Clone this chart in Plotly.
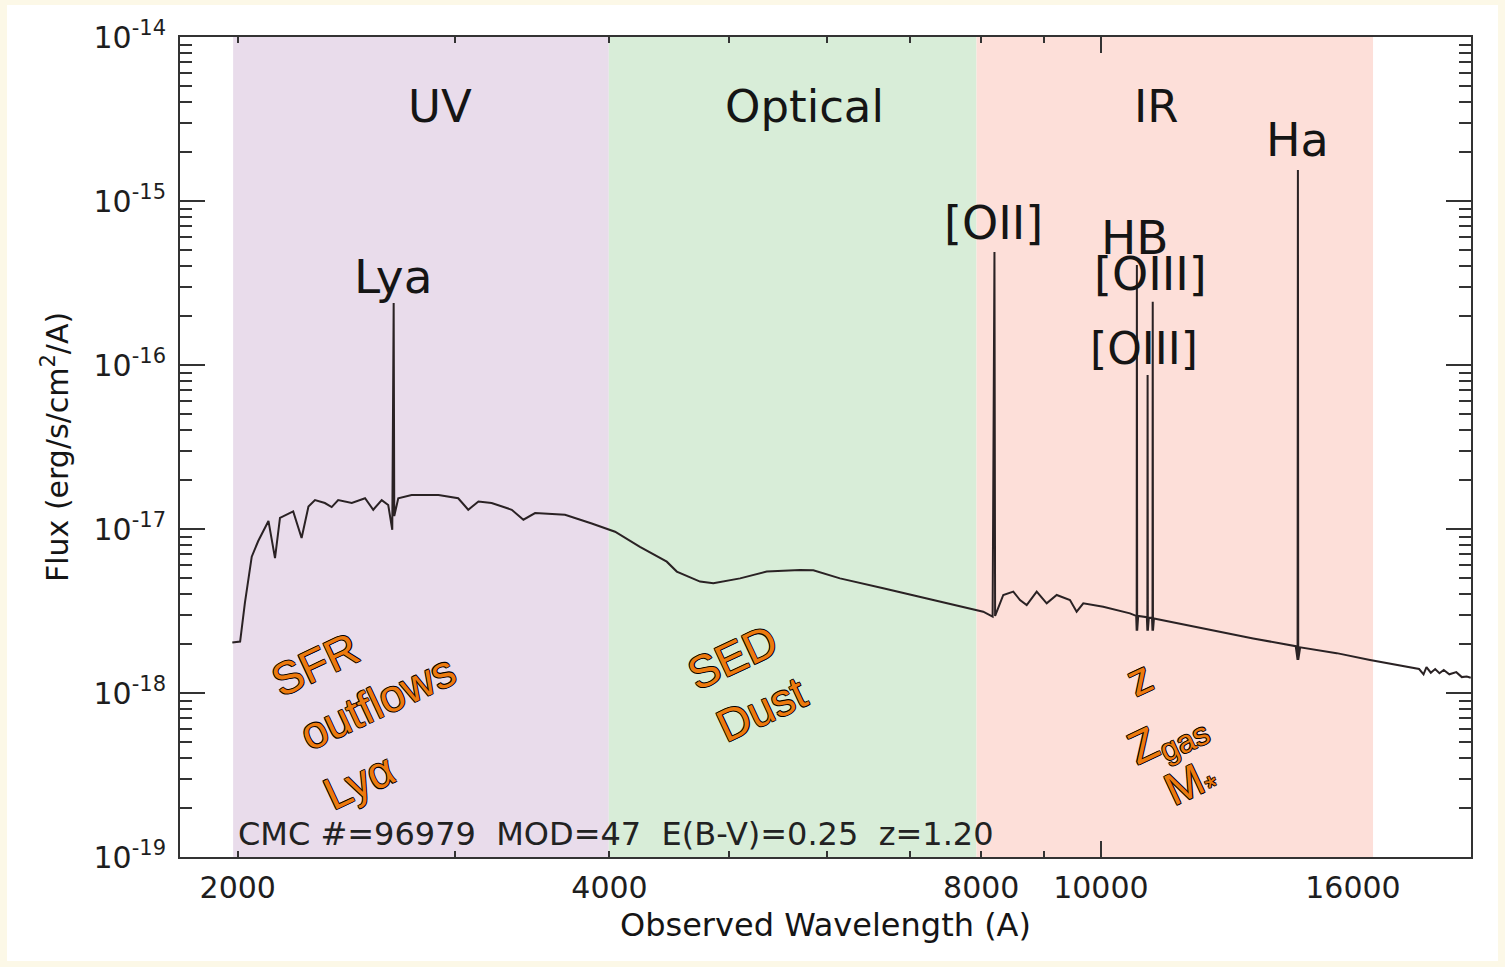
import plotly.graph_objects as go

# ---------------- data ----------------
wavelength = [1980, 2009, 2027, 2053, 2078, 2118, 2144, 2164, 2218, 2253, 2282, 2310, 2353, 2383,
              2412, 2474, 2536, 2575, 2616, 2648, 2668, 2675, 2678, 2698, 2766, 2836, 2908, 3017,
              3074, 3133, 3211, 3334, 3407, 3482, 3682, 3870, 4042, 4234, 4451, 4535, 4736, 4855,
              5103, 5363, 5706, 5850, 6148, 6664, 7315, 8030, 8172, 8200, 8210, 8336, 8493, 8600,
              8708, 8872, 9039, 9209, 9440, 9558, 9677, 10044, 10557, 10680, 10690, 10694, 10700,
              10720, 10895, 10905, 10910, 10915, 10935, 11000, 11010, 11015, 11020, 11040, 11374,
              12101, 13283, 14380, 14430, 14439, 14448, 14500, 15522, 16517, 17576, 18100, 18250,
              18350, 18500, 18650, 18800, 18950, 19150, 19400, 19600, 19783, 19930]
flux = [2.03e-18, 2.06e-18, 3.54e-18, 6.78e-18, 8.45e-18, 1.12e-17, 6.65e-18, 1.17e-17, 1.28e-17,
        8.81e-18, 1.37e-17, 1.50e-17, 1.44e-17, 1.36e-17, 1.50e-17, 1.44e-17, 1.54e-17, 1.31e-17,
        1.50e-17, 1.40e-17, 9.9e-18, 2.39e-16, 1.2e-17, 1.54e-17, 1.61e-17, 1.61e-17, 1.61e-17,
        1.54e-17, 1.31e-17, 1.47e-17, 1.44e-17, 1.31e-17, 1.14e-17, 1.25e-17, 1.22e-17, 1.08e-17,
        9.62e-18, 7.79e-18, 6.32e-18, 5.50e-18, 4.78e-18, 4.67e-18, 5.00e-18, 5.50e-18, 5.62e-18,
        5.60e-18, 5.00e-18, 4.35e-18, 3.69e-18, 3.13e-18, 2.92e-18, 4.89e-16, 2.95e-18, 3.96e-18,
        4.15e-18, 3.69e-18, 3.44e-18, 4.15e-18, 3.52e-18, 3.96e-18, 3.69e-18, 3.13e-18, 3.52e-18,
        3.36e-18, 3.06e-18, 2.95e-18, 2.40e-18, 4.07e-16, 2.40e-18, 2.95e-18, 2.90e-18, 2.40e-18,
        8.69e-17, 2.40e-18, 2.88e-18, 2.87e-18, 2.40e-18, 2.43e-16, 2.40e-18, 2.85e-18, 2.72e-18,
        2.48e-18, 2.15e-18, 1.93e-18, 1.59e-18, 1.545e-15, 1.59e-18, 1.90e-18, 1.75e-18, 1.59e-18,
        1.45e-18, 1.40e-18, 1.30e-18, 1.44e-18, 1.33e-18, 1.40e-18, 1.32e-18, 1.38e-18, 1.30e-18,
        1.34e-18, 1.25e-18, 1.26e-18, 1.24e-18]

band_names = ["UV", "Optical", "IR"]
band_start = [1983, 3995, 7930]
band_end = [3995, 7930, 16610]
band_colors = ["#E9DCEB", "#D8EDD8", "#FDDFD9"]

x_ticks = [2000, 4000, 8000, 10000, 16000]
x_minor = [2000, 3000, 4000, 5000, 6000, 7000, 8000, 9000]
y_exponents = [-19, -18, -17, -16, -15, -14]

AX = "#333333"
FONT = "DejaVu Sans"
ORANGE_FONT = "Liberation Sans, Arial"

fig = go.Figure()

# wavelength bands
for name, x0, x1, c in zip(band_names, band_start, band_end, band_colors):
    fig.add_trace(go.Scatter(x=[x0, x1, x1, x0, x0], y=[1e-20, 1e-20, 1e-13, 1e-13, 1e-20],
                             mode="lines", fill="toself", fillcolor=c, line=dict(width=0),
                             hoverinfo="skip", showlegend=False))

# spectrum
fig.add_trace(go.Scatter(x=wavelength, y=flux, mode="lines",
                         line=dict(color="#2a2224", width=2), showlegend=False))

# helper trace for the overlay axis (long tick at 10000)
fig.add_trace(go.Scatter(x=[10000], y=[1e-17], xaxis="x2", mode="markers",
                         marker=dict(opacity=0), hoverinfo="skip", showlegend=False))

y_minor = [k * 10.0 ** e for e in y_exponents[:-1] for k in range(2, 10)]

fig.update_layout(
    width=1505, height=967, autosize=False,
    margin=dict(l=180, r=34, t=37, b=110),
    paper_bgcolor="#FCF8E7", plot_bgcolor="white",
    font=dict(family=FONT, color="#1e1e1e"),
    xaxis=dict(type="log", range=[3.2543, 4.2997], tickmode="array", tickvals=x_ticks,
               ticktext=[str(v) for v in x_ticks], ticks="", showline=True, linecolor=AX,
               linewidth=2, mirror="ticks", showgrid=False, zeroline=False,
               tickfont=dict(size=30, family=FONT, color="#1e1e1e"), ticklabelstandoff=3,
               minor=dict(tickmode="array", tickvals=x_minor, ticks="inside", ticklen=6,
                          tickwidth=1.5, tickcolor=AX, showgrid=False)),
    xaxis2=dict(type="log", range=[3.2543, 4.2997], overlaying="x", anchor="y", side="bottom",
                tickmode="array", tickvals=[10000], ticks="inside", ticklen=16, tickwidth=1.5,
                tickcolor=AX, mirror="ticks", showticklabels=False, showline=False,
                showgrid=False, zeroline=False),
    yaxis=dict(type="log", range=[-19, -14], tickmode="array",
               tickvals=[10.0 ** e for e in y_exponents],
               ticktext=["10<sup>%d</sup>" % e for e in y_exponents],
               ticks="inside", ticklen=25, tickwidth=1.5, tickcolor=AX, showline=True,
               linecolor=AX, linewidth=2, mirror="ticks", showgrid=False, zeroline=False,
               tickfont=dict(size=30, family=FONT, color="#1e1e1e"), ticklabelstandoff=6,
               minor=dict(tickmode="array", tickvals=y_minor, ticks="inside", ticklen=12,
                          tickwidth=1.5, tickcolor=AX, showgrid=False)),
)

# white page inside the cream border
fig.add_shape(type="rect", xref="paper", yref="paper", x0=-0.134, x1=1.0209, y0=-0.1268,
              y1=1.039, fillcolor="white", line=dict(width=0), layer="below")


def px2paper(px, py):
    return (px - 180) / 1291.0, (857 - py) / 820.0


def label(text, px, py, size, family=FONT, color="#151515", angle=0, xanchor="center", **kw):
    xp, yp = px2paper(px, py)
    fig.add_annotation(text=text, x=xp, y=yp, xref="paper", yref="paper", showarrow=False,
                       xanchor=xanchor, yanchor="middle", textangle=angle,
                       font=dict(size=size, family=family, color=color, **kw))


# band titles and line labels
label("UV", 440, 107, 45)
label("Optical", 804, 107, 45)
label("IR", 1156, 107, 45)
label("Ha", 1297, 140, 46)
label("Lya", 393, 276, 47)
label("[OII]", 993, 223, 46)
label("HB", 1135, 237, 47)
label("[OIII]", 1150, 274, 46)
label("[OIII]", 1144, 348, 44)

# model info
label("CMC\u00a0#=96979\u00a0\u00a0MOD=47\u00a0\u00a0E(B-V)=0.25\u00a0\u00a0z=1.20", 236, 834, 32,
      xanchor="left", color="#222222")

# axis titles
label("Observed Wavelength (A)", 825, 925, 32)
label("Flux (erg/s/cm<sup>2</sup>/A)", 55, 447, 30, angle=-90)

# orange science-case text
outline = ("-0.8px -0.8px 0 #000, 0.8px -0.8px 0 #000, -0.8px 0.8px 0 #000, "
           "0.8px 0.8px 0 #000")
orange = "#EC7A0E"
for txt, px, py in [("SFR", 315, 664), ("outflows", 377, 702), ("Ly\u03b1", 359, 781),
                    ("SED", 732, 657), ("Dust", 761, 709), ("z", 1139, 678),
                    ("Z<sub>gas</sub>", 1167, 737), ("M<sub>*</sub>", 1191, 784)]:
    label(txt, px, py, 45, family=ORANGE_FONT, color=orange, angle=-25, shadow=outline)

fig.write_html("out.html")
